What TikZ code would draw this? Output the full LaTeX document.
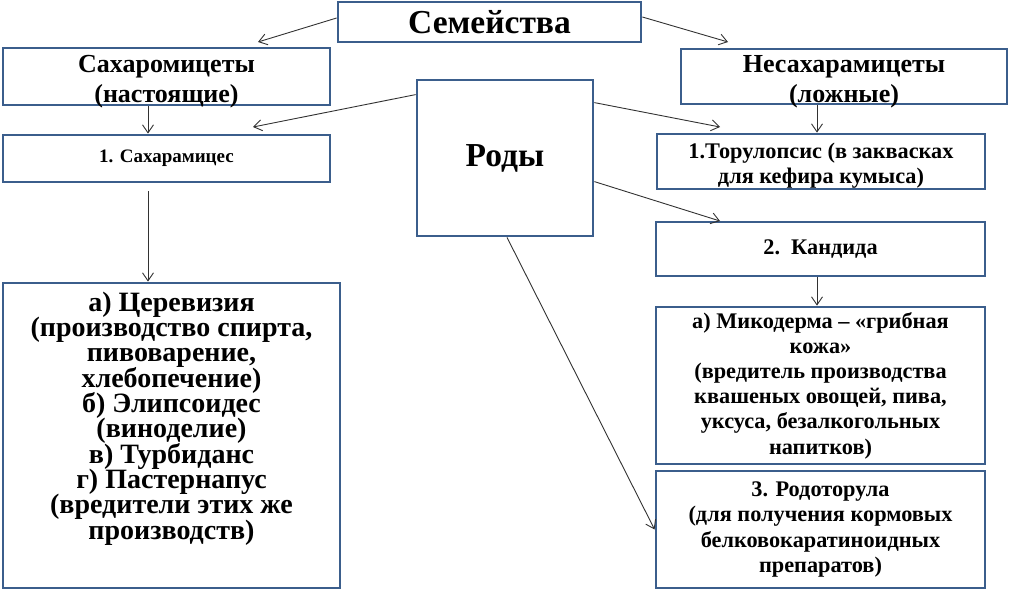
\documentclass[tikz,border=0pt]{standalone}
\usepackage{fontspec}
\setmainfont{Liberation Serif}[BoldFont={Liberation Serif Bold}]
\usepackage{tikz}
\usepackage{xcolor}
\usetikzlibrary{shapes.geometric, arrows.meta, positioning, fit, backgrounds, calc}
\definecolor{frame1}{RGB}{59, 94, 140}
\definecolor{arrow1}{RGB}{50, 50, 50}
\newcommand{\tightlines}{\lineskiplimit=-100pt\relax}
\newcommand{\nodepth}[1]{\raisebox{0pt}[\height][0pt]{#1}}

\begin{document}
\begin{tikzpicture}[x=1pt, y=-1pt,
    box/.style={rectangle, draw=frame1, line width=2.8pt, align=center, inner sep=0pt, font=\rmfamily\bfseries\fontsize{26}{30}\selectfont\tightlines},
    small/.style={font=\rmfamily\bfseries\fontsize{22.3}{25.2}\selectfont\tightlines},
    big/.style={font=\rmfamily\bfseries\fontsize{33.5}{36}\selectfont},
    arr/.style={draw=arrow1, line width=0.9pt, -{Straight Barb[length=8pt, width=11pt]}}]
    \useasboundingbox (0,0) rectangle (1010,590);

    \node[box, big, minimum width=303pt, minimum height=40pt] (fam) at (489.5, 22) {Семейства};
    \node[box, minimum width=327pt, minimum height=57pt] (sah) at (166.5, 76.5) {\rule{0pt}{21pt}Сахаромицеты\\\nodepth{(настоящие)}};
    \node[box, minimum width=326pt, minimum height=55pt] (nesah) at (844, 76.5) {\rule{0pt}{21pt}Несахарамицеты\\\nodepth{(ложные)}};
    \node[box, big, minimum width=176pt, minimum height=156pt] (rody) at (505, 158) {Роды};
    \node[box, font=\rmfamily\bfseries\fontsize{19}{22}\selectfont, minimum width=327pt, minimum height=47pt] (sahm) at (166.5, 158.5) {1. Сахарамицес};
    \node[box, font=\rmfamily\bfseries\fontsize{28}{25.3}\selectfont\tightlines, minimum width=337pt, minimum height=305pt] (cerev) at (171.5, 435.5) {а) Церевизия\\(производство спирта,\\пивоварение,\\хлебопечение)\\б) Элипсоидес\\(виноделие)\\в) Турбиданс\\г) Пастернапус\\(вредители этих же\\производств)\rule[-40pt]{0pt}{40pt}};
    \node[box, small, minimum width=328pt, minimum height=55pt] (torul) at (821, 161.5) {\rule{0pt}{23.5pt}1.Торулопсис (в заквасках\\для кефира кумыса)};
    \node[box, small, minimum width=329pt, minimum height=54pt] (kand) at (820.5, 249) {2.\ \ Кандида};
    \node[box, small, minimum width=329pt, minimum height=157pt] (mikod) at (820.5, 385.5) {а) Микодерма -- «грибная\\кожа»\\(вредитель производства\\квашеных овощей, пива,\\уксуса, безалкогольных\\напитков)};
    \node[box, small, minimum width=329pt, minimum height=117pt] (rodot) at (820.5, 529.5) {3. Родоторула\\(для получения кормовых\\белковокаратиноидных\\препаратов)};

    % free arrow ends
    \coordinate (famL) at (258, 42);
    \coordinate (famR) at (728, 42);
    \coordinate (rodyL) at (253, 127);
    \coordinate (rodyR) at (720, 127);
    \coordinate (rodyK) at (720, 221);

    \draw[arr] ([yshift=4pt]fam.west) -- (famL);
    \draw[arr] ([yshift=5pt]fam.east) -- (famR);
    \draw[arr] ([xshift=-18.5pt]sah.south) -- ([xshift=-18.5pt]sahm.north);
    \draw[arr] ([xshift=-27pt]nesah.south) -- ([xshift=-4pt]torul.north);
    \draw[arr] ([yshift=-16pt]rody.north west) -- (rodyL);
    \draw[arr] ([yshift=-24pt]rody.north east) -- (rodyR);
    \draw[arr] ([yshift=-103pt]rody.north east) -- (rodyK);
    \draw[arr] ([xshift=2pt]rody.south) -- (rodot.west);
    \draw[arr, shorten <=8pt] ([xshift=-18.5pt]sahm.south) -- ([xshift=-23.5pt]cerev.north);
    \draw[arr] ([xshift=-3.5pt]kand.south) -- ([xshift=-3.5pt]mikod.north);
\end{tikzpicture}
\end{document}
